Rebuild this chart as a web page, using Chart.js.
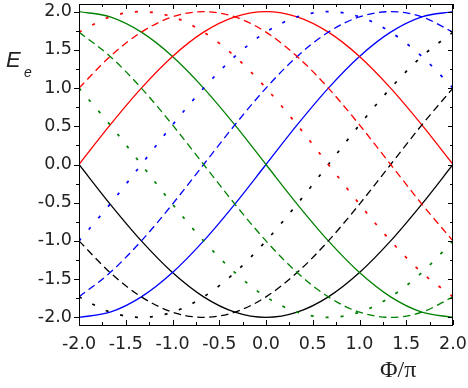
<!DOCTYPE html>
<html>
<head>
<meta charset="utf-8">
<script src="https://cdn.jsdelivr.net/npm/chart.js@4"></script>
<style>
  body { margin: 0; background: #fff; }
  canvas { display: block; }
</style>
</head>
<body>
<canvas id="chart" width="468" height="388"></canvas>
<script>
const ctx = document.getElementById('chart');

// Phi/pi sample positions
const phi = [-2, -1.667, -1.333, -1, -0.667, -0.333, 0, 0.333, 0.667, 1, 1.333, 1.667, 2];

// E_e at each phi
const redSolid   = [0, 0.518, 1, 1.414, 1.732, 1.932, 2, 1.932, 1.732, 1.414, 1, 0.518, 0];
const redDash    = [1, 1.414, 1.732, 1.932, 2, 1.932, 1.732, 1.414, 1, 0.518, 0, -0.518, -1];
const redDot     = [1.732, 1.932, 2, 1.932, 1.732, 1.414, 1, 0.518, 0, -0.518, -1, -1.414, -1.732];
const greenSolid = [2, 1.932, 1.732, 1.414, 1, 0.518, 0, -0.518, -1, -1.414, -1.732, -1.932, -2];
const greenDash  = [1.732, 1.414, 1, 0.518, 0, -0.518, -1, -1.414, -1.732, -1.932, -2, -1.932, -1.732];
const greenDot   = [1, 0.518, 0, -0.518, -1, -1.414, -1.732, -1.932, -2, -1.932, -1.732, -1.414, -1];
const blueSolid  = [-2, -1.932, -1.732, -1.414, -1, -0.518, 0, 0.518, 1, 1.414, 1.732, 1.932, 2];
const blueDash   = [-1.732, -1.414, -1, -0.518, 0, 0.518, 1, 1.414, 1.732, 1.932, 2, 1.932, 1.732];
const blueDot    = [-1, -0.518, 0, 0.518, 1, 1.414, 1.732, 1.932, 2, 1.932, 1.732, 1.414, 1];
const blackSolid = [0, -0.518, -1, -1.414, -1.732, -1.932, -2, -1.932, -1.732, -1.414, -1, -0.518, 0];
const blackDash  = [-1, -1.414, -1.732, -1.932, -2, -1.932, -1.732, -1.414, -1, -0.518, 0, 0.518, 1];
const blackDot   = [-1.732, -1.932, -2, -1.932, -1.732, -1.414, -1, -0.518, 0, 0.518, 1, 1.414, 1.732];

// tick labels
const xTicks = [-2, -1.5, -1, -0.5, 0, 0.5, 1, 1.5, 2];
const yTicks = [-2, -1.5, -1, -0.5, 0, 0.5, 1, 1.5, 2];
const xMinor = [-1.75, -1.25, -0.75, -0.25, 0.25, 0.75, 1.25, 1.75];
const yMinor = [-1.75, -1.25, -0.75, -0.25, 0.25, 0.75, 1.25, 1.75];

const RED = '#ff0000', GREEN = '#008000', BLUE = '#0000ff', BLACK = '#000000';
const DASH = [7.5, 4.5];
const DOT = [3, 12];

function line(values, color, dash, width) {
    return {
        data: phi.map((x, i) => ({ x: x, y: values[i] })),
        borderColor: color,
        borderWidth: width,
        borderDash: dash,
        pointRadius: 0,
        fill: false,
        cubicInterpolationMode: 'monotone',
    };
}

const datasets = [
    line(redDot, RED, DOT, 1.7),
    line(greenDot, GREEN, DOT, 1.7),
    line(blueDot, BLUE, DOT, 1.7),
    line(blackDot, BLACK, DOT, 1.7),
    line(redDash, RED, DASH, 1.3),
    line(greenDash, GREEN, DASH, 1.3),
    line(blueDash, BLUE, DASH, 1.3),
    line(blackDash, BLACK, DASH, 1.3),
    line(redSolid, RED, [], 1.3),
    line(greenSolid, GREEN, [], 1.3),
    line(blueSolid, BLUE, [], 1.3),
    line(blackSolid, BLACK, [], 1.3),
];

// no extra room for overhanging tick labels
function noPad(s) {
    s.paddingLeft = 0; s.paddingRight = 0; s.paddingTop = 0; s.paddingBottom = 0;
}

// frame, in/out ticks and axis titles
const framePlugin = {
    id: 'frame',
    afterDraw(chart) {
        const c = chart.ctx;
        const a = chart.chartArea;
        const xs = chart.scales.x, ys = chart.scales.y;
        c.save();
        c.strokeStyle = '#000';
        c.lineWidth = 1;
        c.strokeRect(a.left + 0.5, a.top + 0.5, a.right - a.left - 1, a.bottom - a.top);
        c.beginPath();
        const tx = (v, len) => {
            const px = Math.round(xs.getPixelForValue(v)) + 0.5;
            c.moveTo(px, a.bottom); c.lineTo(px, a.bottom - len);
            c.moveTo(px, a.top); c.lineTo(px, a.top + len);
        };
        const ty = (v, len) => {
            const py = Math.round(ys.getPixelForValue(v)) + 0.5;
            c.moveTo(a.left, py); c.lineTo(a.left - len, py);
            c.moveTo(a.right, py); c.lineTo(a.right - len, py);
        };
        xTicks.forEach(v => tx(v, 5));
        xMinor.forEach(v => tx(v, 3));
        yTicks.forEach(v => ty(v, 5));
        yMinor.forEach(v => ty(v, 3));
        c.stroke();

        c.fillStyle = '#222';
        c.textBaseline = 'alphabetic';
        c.textAlign = 'left';
        c.font = 'italic 22px "Liberation Sans", Arial, sans-serif';
        c.fillText('E', 6, 67);
        c.font = 'italic 14px "Liberation Sans", Arial, sans-serif';
        c.fillText('e', 24, 77);
        c.font = '24px "Liberation Serif", "Times New Roman", serif';
        c.fillText('\u03A6/\u03C0', 380, 377);
        c.restore();
    },
};

const config = {
    type: 'line',
    data: { datasets: datasets },
    options: {
        responsive: false,
        devicePixelRatio: 1,
        animation: false,
        layout: { padding: { top: 4, right: 15, left: 0, bottom: 0 } },
        plugins: { legend: { display: false }, tooltip: { enabled: false } },
        scales: {
            x: {
                type: 'linear',
                min: -2,
                max: 2,
                afterBuildTicks: (s) => { s.ticks = xTicks.map(v => ({ value: v })); },
                afterFit: (s) => { s.height = 63; noPad(s); },
                grid: { display: false, drawTicks: false },
                border: { display: false },
                ticks: {
                    padding: 9,
                    color: '#222',
                    maxRotation: 0,
                    autoSkip: false,
                    font: { family: 'DejaVu Sans', size: 17.5 },
                    callback: (v) => v.toFixed(1),
                },
            },
            y: {
                type: 'linear',
                min: -2.1,
                max: 2.1,
                afterBuildTicks: (s) => { s.ticks = yTicks.map(v => ({ value: v })); },
                afterFit: (s) => { s.width = 79; noPad(s); },
                grid: { display: false, drawTicks: false },
                border: { display: false },
                ticks: {
                    padding: 7,
                    color: '#222',
                    autoSkip: false,
                    font: { family: 'DejaVu Sans', size: 17.5 },
                    callback: (v) => v.toFixed(1),
                },
            },
        },
    },
    plugins: [framePlugin],
};

new Chart(ctx, config);
</script>
</body>
</html>
